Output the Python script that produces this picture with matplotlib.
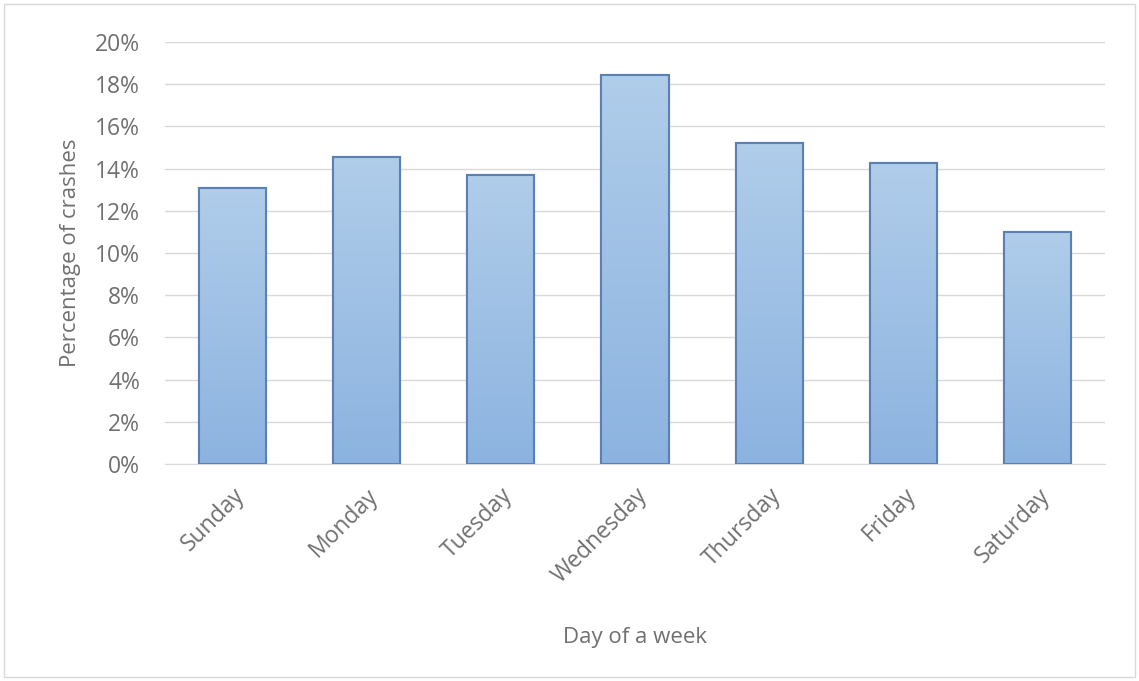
import matplotlib
matplotlib.use("Agg")
import matplotlib.pyplot as plt
import numpy as np
from matplotlib.patches import Rectangle
from matplotlib.colors import LinearSegmentedColormap

days = ["Sunday", "Monday", "Tuesday", "Wednesday", "Thursday", "Friday", "Saturday"]
pct = [13.1, 14.55, 13.7, 18.45, 15.2, 14.25, 11.0]
yticks = [0, 2, 4, 6, 8, 10, 12, 14, 16, 18, 20]

plt.rcParams['font.family'] = ['Open Sans', 'DejaVu Sans']

fig = plt.figure(figsize=(11.39, 6.81), dpi=100)
ax = fig.add_axes([165/1139, 1-464/681, (1105-165)/1139, (464-42)/681])

x = np.arange(len(days))
bars = ax.bar(x, pct, width=0.5, color='#9fc0e6', edgecolor='#5b80b4', linewidth=1.5, zorder=3)

cmap = LinearSegmentedColormap.from_list('g', ['#8cb3e0', '#b0cdea'])
grad = np.linspace(0, 1, 256).reshape(-1, 1)
for b in bars:
    x0, w, h = b.get_x(), b.get_width(), b.get_height()
    im = ax.imshow(grad, extent=[x0, x0 + w, 0, h], origin='lower', aspect='auto',
                   cmap=cmap, zorder=3.5)
    im.set_clip_path(b)
    ax.add_patch(Rectangle((x0, 0), w, h, fill=False, edgecolor='#5b80b4', linewidth=1.5, zorder=4))

ax.set_xlim(-0.5, len(days) - 0.5)
ax.set_ylim(0, 20)
ax.set_yticks(yticks)
ax.set_yticklabels([f"{t}%" for t in yticks])
ax.set_xticks(x)
ax.set_xticklabels(days, rotation=45, ha='right', rotation_mode='anchor')
ax.tick_params(axis='both', length=0, labelsize=16.5, colors='#707070')
ax.tick_params(axis='y', pad=18)
ax.tick_params(axis='x', pad=14)
ax.grid(axis='y', color='#d9d9d9', linewidth=1, zorder=0)
for s in ['top', 'right', 'left']:
    ax.spines[s].set_visible(False)
ax.spines['bottom'].set_color('#d9d9d9')
ax.set_ylabel("Percentage of crashes", fontsize=16, color='#707070', labelpad=10)
ax.set_xlabel("Day of a week", fontsize=16, color='#707070', labelpad=28)

fig.patches.append(Rectangle((4/1139, 4/681), 1131/1139, 673/681, transform=fig.transFigure,
                             fill=False, edgecolor='#d9d9d9', linewidth=1))

fig.savefig("out.png", dpi=100)
